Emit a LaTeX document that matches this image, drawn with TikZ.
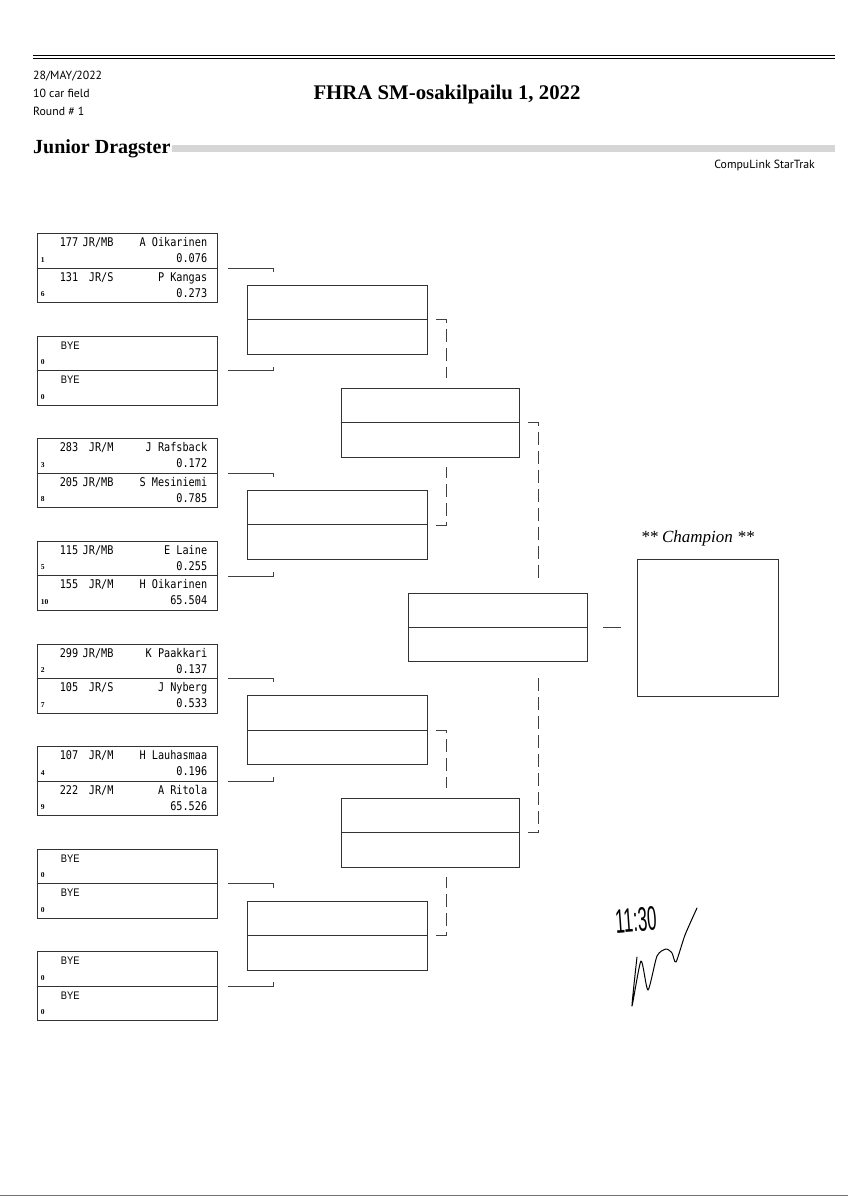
\documentclass[tikz,border=0pt]{standalone}
\usepackage{fontspec}
\setmainfont{Liberation Serif}
\newfontfamily\gillfont{PT Sans}
\newfontfamily\carfont[FakeStretch=0.85]{DejaVu Sans Mono}
\newfontfamily\byefont[FakeStretch=0.85]{Liberation Sans}
\newfontfamily\handfont[FakeStretch=0.5]{Liberation Sans}
\usetikzlibrary{positioning}

% one lane of a first round pair: box, half (0 top / 1 bottom), car, class, driver, seed, et
\newcommand{\carlane}[7]{%
  \node[carno,anchor=base west] (#1-#2-car) at ([xshift=23pt,yshift={-(34.5*#2+13.5)}]#1.north west) {#3};
  \node[carno,anchor=base east] (#1-#2-cls) at ([xshift=77pt,yshift={-(34.5*#2+13.5)}]#1.north west) {#4};
  \node[carno,anchor=base east] (#1-#2-drv) at ([xshift=-10pt,yshift={-(34.5*#2+13.5)}]#1.north east) {#5};
  \node[seedno,anchor=base west] (#1-#2-seed) at ([xshift=4pt,yshift={-(34.5*#2+29)}]#1.north west) {#6};
  \node[carno,anchor=base east] (#1-#2-et) at ([xshift=-10pt,yshift={-(34.5*#2+29.5)}]#1.north east) {#7};
}
\newcommand{\byelane}[2]{%
  \node[byetxt,anchor=base west] (#1-#2-bye) at ([xshift=24pt,yshift={-(34.5*#2+13.5)}]#1.north west) {BYE};
  \node[seedno,anchor=base west] (#1-#2-seed) at ([xshift=4pt,yshift={-(34.5*#2+29)}]#1.north west) {0};
}

\begin{document}
\begin{tikzpicture}[x=1pt,y=-1pt,
    pair/.style={draw=black!80,line width=0.7pt,minimum width=#1,minimum height=69pt,inner sep=0pt},
    pair/.default=180pt,
    split/.style={draw=black!80,line width=0.7pt},
    feed/.style={draw=black!75,line width=0.6pt},
    adv/.style={feed,dash pattern=on 13pt off 6pt},
    carno/.style={font=\carfont\fontsize{12}{12}\selectfont,inner sep=0pt},
    seedno/.style={font=\fontsize{7.5}{7.5}\selectfont\bfseries,inner sep=0pt},
    byetxt/.style={font=\byefont\fontsize{11}{11}\selectfont,inner sep=0pt},
    meta/.style={font=\gillfont\fontsize{11.8}{13}\selectfont,inner sep=0pt,anchor=base west},
    hand/.style={font=\handfont\fontsize{34}{34}\selectfont,inner sep=0pt}]

  \fill[white] (0,0) rectangle (848,1200);
  \useasboundingbox (0,0) rectangle (848,1200);

  % header
  \draw[line width=0.5pt] (33,55) -- (835,55);
  \draw[line width=1.6pt] (33,58.5) -- (835,58.5);
  \node[meta] (date) at (33,79) {28/MAY/2022};
  \node[meta] (field) at (33,97) {10 car field};
  \node[meta] (round) at (33,115) {Round \# 1};
  \node[font=\bfseries\fontsize{20.8}{21}\selectfont,inner sep=0pt,anchor=base] (title) at (447,99) {FHRA SM-osakilpailu 1, 2022};
  \node[font=\bfseries\fontsize{20}{20}\selectfont,inner sep=0pt,anchor=base west] (cat) at (33,153) {Junior Dragster};
  \fill[black!16] (172,145) rectangle (835,151.5);
  \node[meta,anchor=base east] (brand) at (815,168) {CompuLink StarTrak};

  % round 1
  \node[pair] (m1) at (127,268) {};
  \draw[split] (m1.west) -- (m1.east);
  \carlane{m1}{0}{177}{JR/MB}{A Oikarinen}{1}{0.076}
  \carlane{m1}{1}{131}{JR/S}{P Kangas}{6}{0.273}

  \node[pair] (m2) at (127,370.6) {};
  \draw[split] (m2.west) -- (m2.east);
  \byelane{m2}{0}
  \byelane{m2}{1}

  \node[pair] (m3) at (127,473.2) {};
  \draw[split] (m3.west) -- (m3.east);
  \carlane{m3}{0}{283}{JR/M}{J Rafsback}{3}{0.172}
  \carlane{m3}{1}{205}{JR/MB}{S Mesiniemi}{8}{0.785}

  \node[pair] (m4) at (127,575.8) {};
  \draw[split] (m4.west) -- (m4.east);
  \carlane{m4}{0}{115}{JR/MB}{E Laine}{5}{0.255}
  \carlane{m4}{1}{155}{JR/M}{H Oikarinen}{10}{65.504}

  \node[pair] (m5) at (127,678.4) {};
  \draw[split] (m5.west) -- (m5.east);
  \carlane{m5}{0}{299}{JR/MB}{K Paakkari}{2}{0.137}
  \carlane{m5}{1}{105}{JR/S}{J Nyberg}{7}{0.533}

  \node[pair] (m6) at (127,781) {};
  \draw[split] (m6.west) -- (m6.east);
  \carlane{m6}{0}{107}{JR/M}{H Lauhasmaa}{4}{0.196}
  \carlane{m6}{1}{222}{JR/M}{A Ritola}{9}{65.526}

  \node[pair] (m7) at (127,883.6) {};
  \draw[split] (m7.west) -- (m7.east);
  \byelane{m7}{0}
  \byelane{m7}{1}

  \node[pair] (m8) at (127,986.2) {};
  \draw[split] (m8.west) -- (m8.east);
  \byelane{m8}{0}
  \byelane{m8}{1}

  % round 2
  \node[pair] (w1) at (337,319.5) {};
  \node[pair] (w2) at (337,524.8) {};
  \node[pair] (w3) at (337,730.1) {};
  \node[pair] (w4) at (337,935.4) {};
  \draw[split] (w1.west) -- (w1.east);
  \draw[split] (w2.west) -- (w2.east);
  \draw[split] (w3.west) -- (w3.east);
  \draw[split] (w4.west) -- (w4.east);

  % semis, final
  \node[pair=178pt] (s1) at (430,422.5) {};
  \node[pair=178pt] (s2) at (430,832.5) {};
  \node[pair=179pt,minimum height=68pt] (f) at (497.5,627) {};
  \draw[split] (s1.west) -- (s1.east);
  \draw[split] (s2.west) -- (s2.east);
  \draw[split] (f.west) -- (f.east);

  \node[pair=141pt,minimum height=137pt] (champ) at (707.5,627.5) {};
  \node[above=12pt of champ,xshift=-10pt,inner sep=0pt,font=\itshape\fontsize{17}{17}\selectfont] (champlbl) {** Champion **};

  % connectors
  \draw[feed] ([xshift=11pt]m1.east) -- ++(45,0) -- ++(0,4);
  \draw[feed] ([xshift=11pt]m2.east) -- ++(45,0) -- ++(0,-4);
  \draw[feed] ([xshift=11pt]m3.east) -- ++(45,0) -- ++(0,4);
  \draw[feed] ([xshift=11pt]m4.east) -- ++(45,0) -- ++(0,-4);
  \draw[feed] ([xshift=11pt]m5.east) -- ++(45,0) -- ++(0,4);
  \draw[feed] ([xshift=11pt]m6.east) -- ++(45,0) -- ++(0,-4);
  \draw[feed] ([xshift=11pt]m7.east) -- ++(45,0) -- ++(0,4);
  \draw[feed] ([xshift=11pt]m8.east) -- ++(45,0) -- ++(0,-4);

  \draw[adv] ([xshift=9pt]w1.east) -- ++(10,0) -- ++(0,58);
  \draw[adv] ([xshift=9pt]w2.east) -- ++(10,0) -- ++(0,-58);
  \draw[adv] ([xshift=9pt]w3.east) -- ++(10,0) -- ++(0,58);
  \draw[adv] ([xshift=9pt]w4.east) -- ++(10,0) -- ++(0,-58);

  \draw[adv] ([xshift=9pt]s1.east) -- ++(10,0) -- ++(0,160);
  \draw[adv] ([xshift=9pt]s2.east) -- ++(10,0) -- ++(0,-158);

  \draw[feed] ([xshift=16pt]f.east) -- ++(18,0);

  % handwritten note
  \node[hand,rotate=4] (time) at (636,920) {11:30};
  \draw[line width=1pt,line cap=round,line join=round] plot[smooth,tension=0.4] coordinates
    {(637,957) (632,1006) (641,961) (648,990) (657,956) (666,949) (672,953) (676,962) (685,935) (697,908)};

  \draw[black!55,line width=1pt] (0,1195) -- (848,1195);
\end{tikzpicture}
\end{document}
